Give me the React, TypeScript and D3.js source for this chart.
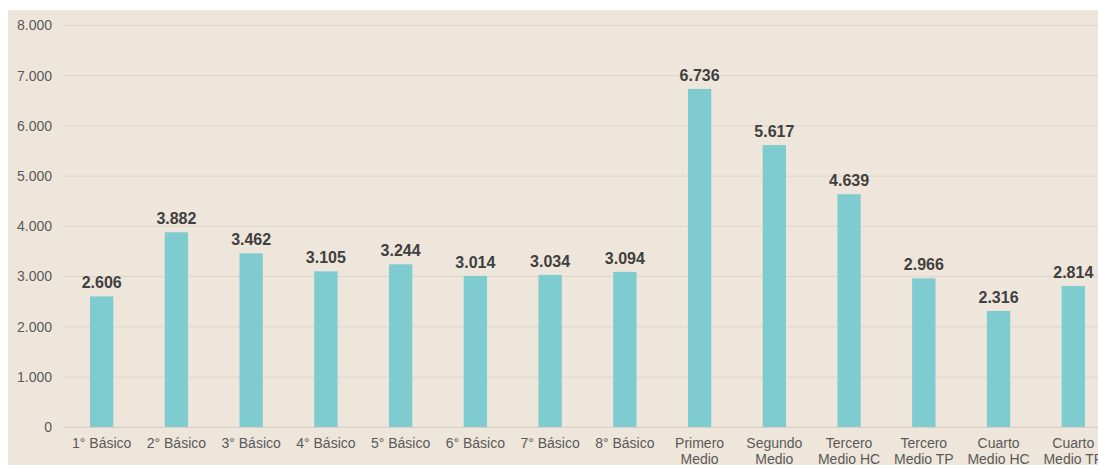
import React from "react";
import * as d3 from "d3";

const categories: string[][] = [
  ["1° Básico"], ["2° Básico"], ["3° Básico"], ["4° Básico"], ["5° Básico"], ["6° Básico"],
  ["7° Básico"], ["8° Básico"], ["Primero", "Medio"], ["Segundo", "Medio"], ["Tercero", "Medio HC"],
  ["Tercero", "Medio TP"], ["Cuarto", "Medio HC"], ["Cuarto", "Medio TP"],
];
const values: number[] = [2606, 3882, 3462, 3105, 3244, 3014, 3034, 3094, 6736, 5617, 4639, 2966, 2316, 2814];
const yTicks: number[] = [0, 1000, 2000, 3000, 4000, 5000, 6000, 7000, 8000];

const W = 1098;
const H = 465;
const locale = d3.formatLocale({ decimal: ",", thousands: ".", grouping: [3], currency: ["$", ""] });
const fmt = locale.format(",d");

export default function App() {
  const x = d3
    .scaleBand<number>()
    .domain(values.map((_, i) => i))
    .range([64.3, 64.3 + 14 * 74.74])
    .paddingInner(0.688)
    .paddingOuter(0.344);
  const y = d3.scaleLinear().domain([0, 8000]).range([427.3, 25.4]);
  const font = "Arial, 'Liberation Sans', sans-serif";
  return (
    <svg
      width={W}
      height={H}
      style={{ position: "absolute", left: 0, top: 0 }}
      fontFamily={font}
    >
      <rect x={8} y={10} width={W - 8} height={H - 10} fill="#EFE6DB" />
      {yTicks.map((t) => (
        <g key={t}>
          {t > 0 && (
            <line x1={64} x2={W} y1={y(t)} y2={y(t)} stroke="#DAD6D0" strokeWidth={1} />
          )}
          <text x={52} y={y(t)} dy="0.35em" textAnchor="end" fontSize={14} fill="#595959">
            {fmt(t)}
          </text>
        </g>
      ))}
      {values.map((v, i) => (
        <g key={i}>
          <rect
            x={x(i)!}
            y={y(v)}
            width={x.bandwidth()}
            height={y(0) - y(v)}
            fill="#7ECBD0"
          />
          <text
            x={x(i)! + x.bandwidth() / 2}
            y={y(v) - 8}
            textAnchor="middle"
            fontSize={16}
            fontWeight="bold"
            fill="#404040"
          >
            {fmt(v)}
          </text>
        </g>
      ))}
      <line x1={64} x2={W} y1={y(0)} y2={y(0)} stroke="#D0CCC6" strokeWidth={1} />
      {categories.map((lines, i) => (
        <text
          key={i}
          x={x(i)! + x.bandwidth() / 2}
          y={448}
          textAnchor="middle"
          fontSize={14}
          fill="#595959"
        >
          {lines.map((l, j) => (
            <tspan key={j} x={x(i)! + x.bandwidth() / 2} dy={j === 0 ? 0 : 15.5}>
              {l}
            </tspan>
          ))}
        </text>
      ))}
    </svg>
  );
}
